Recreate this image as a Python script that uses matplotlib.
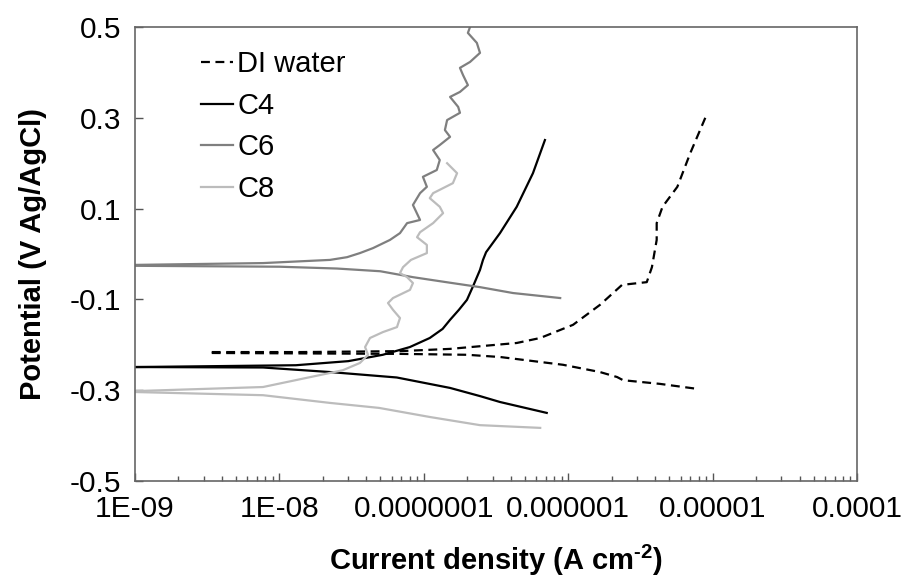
import numpy as np
import matplotlib
matplotlib.use("Agg")
import matplotlib.pyplot as plt
from matplotlib.ticker import LogLocator, FixedLocator, NullFormatter

plt.rcParams['font.family'] = ['Liberation Sans', 'DejaVu Sans']
plt.rcParams['mathtext.fontset'] = 'custom'
plt.rcParams['mathtext.rm'] = 'Liberation Sans:bold'
plt.rcParams['mathtext.bf'] = 'Liberation Sans:bold'

# --- data (current density in A cm-2, potential in V) ---
# DI water
di_anodic_i = [3.4e-9, 1.39e-8, 6.8e-8, 1.52e-7, 4.4e-7, 6.4e-7, 1.08e-6, 1.66e-6, 2.36e-6,
               3.5e-6, 3.8e-6, 4.1e-6, 4.1e-6, 4.5e-6, 5.7e-6, 7.0e-6, 8.9e-6]
di_anodic_E = [-0.216, -0.216, -0.214, -0.209, -0.196, -0.185, -0.156, -0.112, -0.068,
               -0.062, -0.029, 0.031, 0.068, 0.104, 0.148, 0.222, 0.300]
di_cathodic_i = [3.4e-9, 6.8e-8, 2.0e-7, 3.4e-7, 9.2e-7, 1.66e-6, 2.18e-6, 2.4e-6, 4.3e-6, 7.8e-6]
di_cathodic_E = [-0.218, -0.220, -0.222, -0.227, -0.244, -0.260, -0.271, -0.278, -0.286, -0.297]

# C4
c4_anodic_i = [1.0e-9, 1.3e-8, 3.0e-8, 5.2e-8, 8.0e-8, 1.1e-7, 1.35e-7, 1.52e-7, 1.75e-7,
               1.99e-7, 2.2e-7, 2.45e-7, 2.57e-7, 2.7e-7, 3.37e-7, 4.4e-7, 5.7e-7, 6.9e-7]
c4_anodic_E = [-0.249, -0.245, -0.236, -0.222, -0.205, -0.185, -0.165, -0.145, -0.123,
               -0.101, -0.070, -0.035, -0.013, 0.004, 0.046, 0.104, 0.178, 0.251]
c4_cathodic_i = [1.0e-9, 7.7e-9, 2.24e-8, 6.5e-8, 1.52e-7, 2.45e-7, 3.37e-7, 7.1e-7]
c4_cathodic_E = [-0.249, -0.250, -0.260, -0.272, -0.295, -0.313, -0.326, -0.350]

# C6
c6_anodic_i = [1.0e-9, 7.7e-9, 2.24e-8, 2.94e-8, 3.61e-8, 4.45e-8, 5.83e-8, 6.84e-8, 7.66e-8,
               9.42e-8, 8.41e-8, 9.42e-8, 1.05e-7, 9.86e-8, 1.23e-7, 1.29e-7, 1.16e-7, 1.29e-7,
               1.52e-7, 1.40e-7, 1.45e-7, 1.78e-7, 1.73e-7, 1.52e-7, 1.78e-7, 2.02e-7, 1.87e-7,
               1.78e-7, 2.09e-7, 2.45e-7, 2.33e-7, 2.02e-7, 2.09e-7]
c6_anodic_E = [-0.024, -0.020, -0.013, -0.007, 0.002, 0.013, 0.031, 0.046, 0.068,
               0.075, 0.108, 0.134, 0.148, 0.170, 0.185, 0.207, 0.229, 0.240,
               0.258, 0.273, 0.295, 0.311, 0.324, 0.346, 0.357, 0.372, 0.394,
               0.410, 0.423, 0.443, 0.465, 0.487, 0.500]
c6_cathodic_i = [1.0e-9, 1.0e-8, 2.5e-8, 5.0e-8, 8.4e-8, 1.5e-7, 2.45e-7, 4.15e-7, 8.8e-7]
c6_cathodic_E = [-0.026, -0.028, -0.032, -0.038, -0.051, -0.063, -0.073, -0.086, -0.097]

# C8
c8_anodic_i = [1.0e-9, 7.7e-9, 2.24e-8, 2.75e-8, 3.61e-8, 4.11e-8, 3.92e-8, 4.24e-8, 5.21e-8,
               6.52e-8, 6.84e-8, 6.12e-8, 5.65e-8, 6.12e-8, 8.02e-8, 8.41e-8, 7.66e-8, 6.84e-8,
               7.18e-8, 8.15e-8, 1.05e-7, 1.05e-7, 8.98e-8, 9.42e-8, 1.16e-7, 1.36e-7, 1.29e-7,
               1.10e-7, 1.16e-7, 1.59e-7, 1.70e-7, 1.45e-7]
c8_anodic_E = [-0.302, -0.293, -0.262, -0.256, -0.240, -0.222, -0.205, -0.185, -0.172,
               -0.161, -0.141, -0.123, -0.108, -0.097, -0.079, -0.064, -0.051, -0.042,
               -0.029, -0.013, 0.002, 0.020, 0.037, 0.048, 0.068, 0.090, 0.104,
               0.123, 0.134, 0.156, 0.178, 0.200]
c8_cathodic_i = [1.0e-9, 7.7e-9, 2.24e-8, 4.9e-8, 1.1e-7, 2.45e-7, 6.4e-7]
c8_cathodic_E = [-0.304, -0.311, -0.328, -0.339, -0.359, -0.377, -0.383]

x_ticks = [1e-9, 1e-8, 1e-7, 1e-6, 1e-5, 1e-4]
x_ticklabels = ['1E-09', '1E-08', '0.0000001', '0.000001', '0.00001', '0.0001']
y_ticks = [-0.5, -0.3, -0.1, 0.1, 0.3, 0.5]
y_ticklabels = ['-0.5', '-0.3', '-0.1', '0.1', '0.3', '0.5']

fig = plt.figure(figsize=(9.05, 5.79), dpi=100)
ax = fig.add_axes([135 / 905, 1 - 481 / 579, 722 / 905, 454 / 579])

lw = 1.6
dash = (4, 2.5)
ax.plot(di_anodic_i, di_anodic_E, color='black', lw=lw, dashes=dash, label='DI water')
ax.plot(di_cathodic_i, di_cathodic_E, color='black', lw=lw, dashes=dash)
ax.plot(c4_anodic_i, c4_anodic_E, color='black', lw=lw, label='C4')
ax.plot(c4_cathodic_i, c4_cathodic_E, color='black', lw=lw)
ax.plot(c6_anodic_i, c6_anodic_E, color='#7f7f7f', lw=lw, label='C6')
ax.plot(c6_cathodic_i, c6_cathodic_E, color='#7f7f7f', lw=lw)
ax.plot(c8_anodic_i, c8_anodic_E, color='#bcbcbc', lw=lw, label='C8')
ax.plot(c8_cathodic_i, c8_cathodic_E, color='#bcbcbc', lw=lw)

ax.set_xscale('log')
ax.set_xlim(1e-9, 1e-4)
ax.set_ylim(-0.5, 0.5)
ax.xaxis.set_major_locator(FixedLocator(x_ticks))
ax.set_xticklabels(x_ticklabels)
ax.xaxis.set_minor_locator(LogLocator(base=10, subs=np.arange(2, 10)))
ax.xaxis.set_minor_formatter(NullFormatter())
ax.set_yticks(y_ticks)
ax.set_yticklabels(y_ticklabels)

ax.tick_params(axis='both', which='major', direction='in', length=6, width=1,
               color='#555555', labelsize=21.5, pad=10)
ax.tick_params(axis='x', which='minor', direction='in', length=3.5, width=1, color='#555555')
ax.tick_params(axis='y', which='minor', left=False)

for s in ax.spines.values():
    s.set_color('#666666')
    s.set_linewidth(1.2)

ax.set_xlabel(r'Current density (A cm$^{\text{-2}}$)', fontsize=21, fontweight='bold', labelpad=14)
ax.set_ylabel('Potential (V Ag/AgCl)', fontsize=21, fontweight='bold', labelpad=16)

ax.legend(loc='upper left', bbox_to_anchor=(0.075, 0.975), frameon=False, fontsize=21,
          handlelength=1.1, handletextpad=0.15, labelspacing=0.47, borderaxespad=0)

fig.savefig('out.png', dpi=100)
